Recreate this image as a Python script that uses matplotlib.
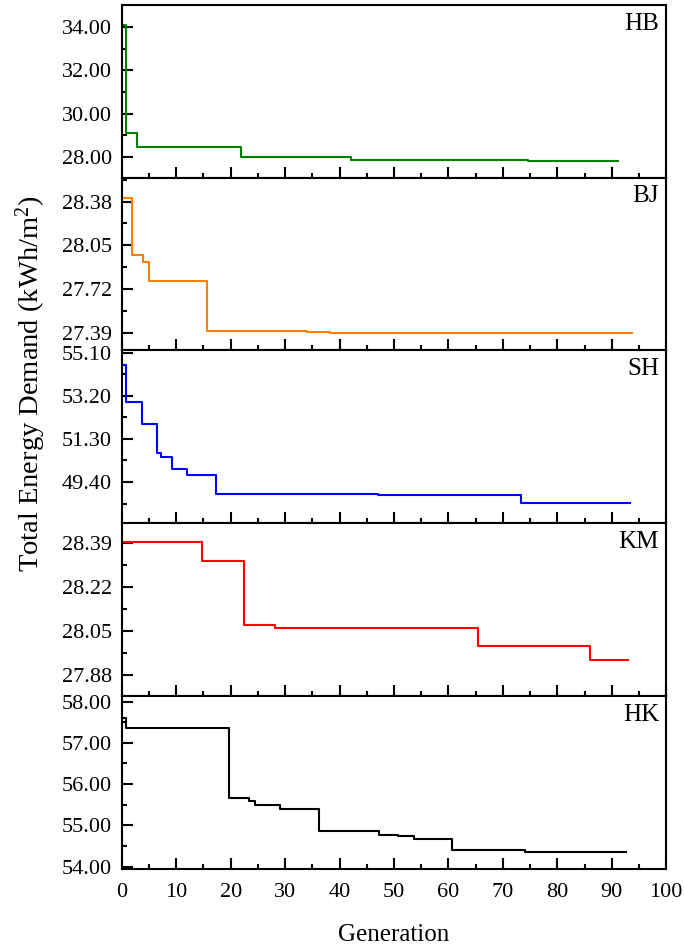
import numpy as np
import matplotlib
matplotlib.use('Agg')
import matplotlib.pyplot as plt
from matplotlib.ticker import MultipleLocator, FormatStrFormatter

plt.rcParams['font.family'] = ['Liberation Serif', 'DejaVu Serif']
plt.rcParams['mathtext.fontset'] = 'custom'
plt.rcParams['mathtext.rm'] = 'Liberation Serif'
plt.rcParams['mathtext.default'] = 'regular'

# best total energy demand per generation, one step series per city
hb_gen = [0.2, 0.8, 2.75, 21.9, 42.1, 72.3, 74.7, 91.2]
hb_val = [34.09, 29.12, 28.47, 27.98, 27.88, 27.845, 27.81, 27.81]

bj_gen = [0.16, 1.84, 3.93, 5.05, 15.6, 34.1, 38.3, 93.8]
bj_val = [28.405, 27.981, 27.926, 27.786, 27.407, 27.397, 27.392, 27.392]

sh_gen = [0.1, 0.79, 3.67, 6.4, 7.2, 9.14, 11.95, 17.4, 47.1, 73.3, 93.3]
sh_val = [54.54, 52.91, 51.95, 50.69, 50.52, 49.98, 49.73, 48.87, 48.84, 48.47, 48.47]

km_gen = [0.16, 14.8, 22.45, 28.2, 65.5, 86.0, 93.0]
km_val = [28.393, 28.321, 28.073, 28.064, 27.995, 27.941, 27.941]

hk_gen = [0.1, 0.79, 19.7, 23.4, 24.4, 29.0, 36.2, 47.2, 50.8, 53.6, 60.6, 74.1, 92.6]
hk_val = [57.60, 57.355, 55.67, 55.60, 55.50, 55.40, 54.855, 54.77, 54.74, 54.67, 54.40, 54.36, 54.36]

cities = ['HB', 'BJ', 'SH', 'KM', 'HK']
gens = [hb_gen, bj_gen, sh_gen, km_gen, hk_gen]
vals = [hb_val, bj_val, sh_val, km_val, hk_val]
colors = ['#008000', '#FF8000', '#0000FF', '#FF0000', '#000000']

# y ticks and limits per panel
y_ticks = [
    [28.00, 30.00, 32.00, 34.00],
    [27.39, 27.72, 28.05, 28.38],
    [49.40, 51.30, 53.20, 55.10],
    [27.88, 28.05, 28.22, 28.39],
    [54.00, 55.00, 56.00, 57.00, 58.00],
]
y_lims = [(27.05, 35.03), (27.26, 28.56), (47.58, 55.20), (27.80, 28.467), (53.94, 58.13)]

fig, axes = plt.subplots(5, 1, figsize=(6.84, 9.51), dpi=100, sharex=True)
fig.subplots_adjust(left=0.178, right=0.974, top=0.995, bottom=0.0862, hspace=0)

for ax, name, g, v, c, yt, yl in zip(axes, cities, gens, vals, colors, y_ticks, y_lims):
    ax.step(g, v, where='post', color=c, lw=1.5)
    ax.set_xlim(0, 100)
    ax.set_ylim(*yl)
    ax.set_yticks(yt)
    step = yt[1] - yt[0]
    ax.yaxis.set_minor_locator(MultipleLocator(step / 2))
    ax.yaxis.set_major_formatter(FormatStrFormatter('%.2f'))
    ax.xaxis.set_major_locator(MultipleLocator(10))
    ax.xaxis.set_minor_locator(MultipleLocator(5))
    ax.tick_params(which='major', direction='in', length=8, width=1.5,
                   labelsize=16, top=False, right=False)
    ax.tick_params(which='minor', direction='in', length=3.5, width=1.5,
                   top=False, right=False)
    ax.tick_params(axis='y', pad=7)
    ax.tick_params(axis='x', pad=10)
    for sp in ax.spines.values():
        sp.set_linewidth(1.5)
    ax.text(0.987, 0.955, name, transform=ax.transAxes, ha='right', va='top',
            fontsize=18)

fig.text(0.045, 0.596, 'Total Energy Demand (kWh/m$^{2}$)', rotation=90,
         ha='center', va='center', fontsize=20.5)
fig.text(0.576, 0.017, 'Generation', ha='center', va='center', fontsize=18)

fig.savefig('out.png', dpi=100)
